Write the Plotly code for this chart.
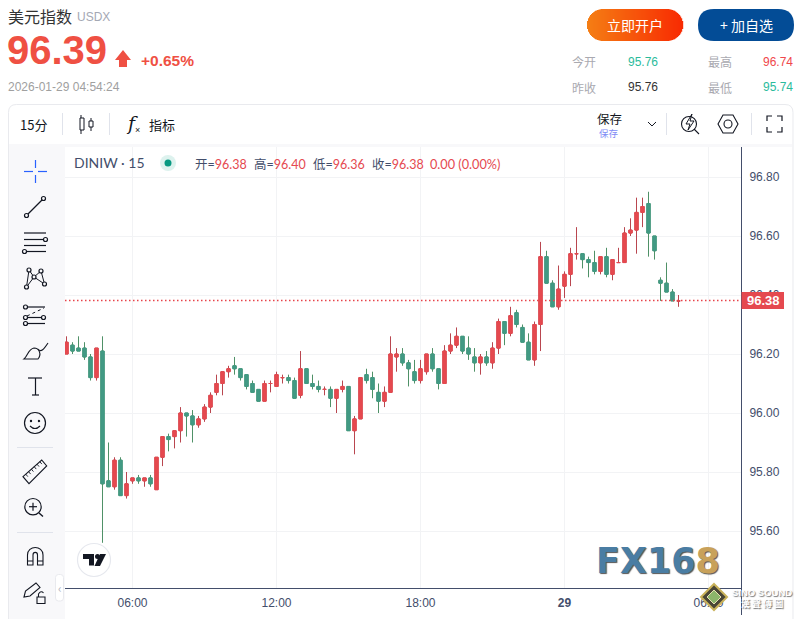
import plotly.graph_objects as go

# ---------- data ----------
opens = [96.20,96.23,96.22,96.22,96.19,96.12,96.21,95.77,95.75,95.84,95.72,95.77,95.78,95.77,95.78,95.74,95.85,95.92,95.92,95.94,
         96.00,95.99,95.96,95.98,96.02,96.07,96.10,96.14,96.16,96.15,96.13,96.10,96.08,96.04,96.10,96.09,96.12,96.12,96.11,96.06,
         96.15,96.10,96.09,96.08,96.08,96.05,96.08,96.09,95.94,95.98,96.13,96.12,96.07,96.04,96.07,96.19,96.20,96.17,96.14,96.11,
         96.14,96.20,96.15,96.10,96.21,96.23,96.26,96.22,96.19,96.17,96.19,96.17,96.22,96.31,96.27,96.34,96.29,96.24,96.18,96.30,
         96.53,96.44,96.36,96.43,96.47,96.54,96.54,96.52,96.51,96.48,96.53,96.47,96.51,96.51,96.61,96.62,96.68,96.71,96.60,96.45,
         96.44,96.41,96.38]
highs = [96.26,96.24,96.26,96.24,96.20,96.22,96.26,95.90,95.85,95.85,95.80,95.78,95.79,95.78,95.79,95.85,95.92,95.93,95.94,96.02,
         96.00,96.01,95.99,96.03,96.07,96.13,96.14,96.16,96.19,96.15,96.13,96.11,96.08,96.11,96.11,96.14,96.13,96.13,96.12,96.21,
         96.15,96.13,96.11,96.09,96.09,96.08,96.11,96.09,95.99,96.12,96.15,96.14,96.10,96.09,96.26,96.22,96.22,96.18,96.18,96.18,
         96.20,96.22,96.15,96.23,96.27,96.29,96.26,96.26,96.22,96.20,96.21,96.24,96.32,96.31,96.36,96.35,96.30,96.27,96.31,96.58,
         96.55,96.45,96.50,96.48,96.56,96.63,96.54,96.53,96.55,96.53,96.56,96.52,96.56,96.63,96.66,96.73,96.73,96.75,96.60,96.46,
         96.51,96.42,96.40]
lows = [96.20,96.20,96.21,96.18,96.11,96.11,95.56,95.75,95.74,95.72,95.71,95.76,95.76,95.75,95.75,95.74,95.82,95.87,95.88,95.90,
        95.92,95.90,95.95,95.97,96.00,96.06,96.06,96.12,96.13,96.11,96.08,96.07,96.04,96.04,96.07,96.09,96.10,96.10,96.05,96.05,
        96.10,96.08,96.07,96.06,96.02,96.00,96.07,95.94,95.86,95.98,96.10,96.05,96.00,96.02,96.07,96.14,96.16,96.09,96.10,96.10,
        96.13,96.14,96.08,96.10,96.20,96.22,96.20,96.18,96.14,96.13,96.16,96.15,96.20,96.23,96.26,96.29,96.24,96.18,96.16,96.21,
        96.44,96.36,96.35,96.39,96.43,96.52,96.49,96.46,96.47,96.47,96.46,96.45,96.51,96.51,96.60,96.54,96.63,96.53,96.52,96.38,
        96.41,96.38,96.36]
closes = [96.24,96.21,96.21,96.19,96.12,96.22,95.76,95.75,95.84,95.72,95.76,95.78,95.77,95.78,95.76,95.85,95.92,95.91,95.94,96.00,
          95.99,95.96,95.98,96.02,96.06,96.10,96.14,96.15,96.15,96.12,96.09,96.07,96.04,96.10,96.10,96.13,96.12,96.11,96.05,96.15,
          96.10,96.09,96.08,96.08,96.05,96.08,96.09,95.94,95.98,96.12,96.11,96.08,96.04,96.07,96.20,96.20,96.17,96.15,96.11,96.15,
          96.20,96.15,96.10,96.21,96.23,96.26,96.21,96.20,96.17,96.19,96.17,96.22,96.31,96.27,96.33,96.30,96.24,96.18,96.30,96.53,
          96.44,96.36,96.42,96.47,96.54,96.54,96.52,96.51,96.48,96.53,96.47,96.52,96.51,96.61,96.62,96.68,96.70,96.61,96.55,96.44,
          96.41,96.38,96.38]
price_ticks = [95.6, 95.8, 96.0, 96.2, 96.4, 96.6, 96.8]
time_tick_pos = [11, 35, 59, 83, 107]
time_tick_text = ["06:00", "12:00", "18:00", "<b>29</b>", "06:00"]
last_price = 96.3814

W, H = 801, 619
RED, GREEN = "#E5494F", "#429A84"
RED_WICK, GREEN_WICK = "#B9464F", "#4F9167"
INK, AXIS = "#131722", "#434E6B"
CJK = "Noto Sans CJK SC, Liberation Sans"
SANS = "Liberation Sans, Noto Sans CJK SC"

xs = list(range(len(opens)))
up = [i for i in xs if closes[i] >= opens[i]]
down = [i for i in xs if closes[i] < opens[i]]


def candles(idx, color, bodies):
    o = [opens[i] for i in idx]
    c = [closes[i] for i in idx]
    hi = [max(opens[i], closes[i]) for i in idx] if bodies else [highs[i] for i in idx]
    lo = [min(opens[i], closes[i]) for i in idx] if bodies else [lows[i] for i in idx]
    style = dict(line=dict(color=color, width=1), fillcolor=color)
    return go.Candlestick(x=idx, open=o, high=hi, low=lo, close=c, increasing=style, decreasing=style,
                          hoverinfo="skip", showlegend=False)


fig = go.Figure()
fig.add_trace(candles(up, RED_WICK, False))
fig.add_trace(candles(down, GREEN_WICK, False))
fig.add_trace(candles(up, RED, True))
fig.add_trace(candles(down, GREEN, True))

shapes, notes = [], []
px = lambda x: x / W
py = lambda y: 1 - y / H


def rect(x0, y0, x1, y1, fill, line=None, width=1):
    shapes.append(dict(type="rect", xref="paper", yref="paper", x0=px(x0), x1=px(x1), y0=py(y0), y1=py(y1),
                       fillcolor=fill, line=dict(color=line or "rgba(0,0,0,0)", width=width if line else 0), layer="above"))


def seg(x0, y0, x1, y1, color=INK, width=1.2, dash="solid"):
    shapes.append(dict(type="line", xref="paper", yref="paper", x0=px(x0), x1=px(x1), y0=py(y0), y1=py(y1),
                       line=dict(color=color, width=width, dash=dash), layer="above"))


def circ(cx, cy, r, fill="#F8F8FA", line=INK, width=1.2):
    shapes.append(dict(type="circle", xref="paper", yref="paper", x0=px(cx - r), x1=px(cx + r), y0=py(cy + r), y1=py(cy - r),
                       fillcolor=fill, line=dict(color=line or "rgba(0,0,0,0)", width=width if line else 0), layer="above"))


def path(cmds, fill="rgba(0,0,0,0)", line=INK, width=1.2):
    out = []
    for c in cmds:
        if isinstance(c, str):
            out.append(c)
        else:
            out.append(f"{px(c[0]):.5f},{py(c[1]):.5f}")
    shapes.append(dict(type="path", xref="paper", yref="paper", path=" ".join(out), fillcolor=fill,
                       line=dict(color=line or "rgba(0,0,0,0)", width=width if line else 0), layer="above"))


def text(x, y, s, size=12, color=INK, anchor="left", font=CJK, shadow=None):
    f = dict(size=size, color=color, family=font)
    if shadow:
        f["shadow"] = shadow
    notes.append(dict(xref="paper", yref="paper", x=px(x), y=py(y), text=s, showarrow=False, xanchor=anchor,
                      yanchor="middle", font=f, borderpad=0, borderwidth=0))


def round_rect(x0, y0, x1, y1, r, fill, line=None, width=1):
    path(["M", (x0 + r, y0), "L", (x1 - r, y0), "Q", (x1, y0), (x1, y0 + r), "L", (x1, y1 - r), "Q", (x1, y1), (x1 - r, y1),
          "L", (x0 + r, y1), "Q", (x0, y1), (x0, y1 - r), "L", (x0, y0 + r), "Q", (x0, y0), (x0 + r, y0), "Z"],
         fill=fill, line=line, width=width)


# ---------- page furniture ----------
round_rect(8.5, 104.5, 793, 640, 8, "rgba(0,0,0,0)", line="#E9EAEE", width=1)
rect(9, 144, 792, 147, "#F8F8FA")
rect(9, 144, 65, 619, "#F8F8FA")

# header
text(8, 16, "美元指数", 16, "#333333")
text(77, 17, "USDX", 12, "#A4A8B4", font=SANS)
text(7, 50, "<b>96.39</b>", 40, "#EF5043", font=SANS)
path(["M", (123, 50), "L", (131, 60), "L", (127, 60), "L", (127, 67), "L", (119, 67), "L", (119, 60), "L", (115, 60), "Z"],
     fill="#EF5043", line=None)
text(141, 60, "<b>+0.65%</b>", 15.5, "#EF5043", font=SANS)
text(8, 87, "2026-01-29 04:54:24", 12, "#A0A0A0", font=SANS)

# buttons
x0b, x1b, y0b, y1b, rb = 587, 683, 9, 41, 16
for k in range(x0b, x1b):
    t = (k - x0b) / (x1b - x0b)
    col = f"rgb({int(245 + 4 * t)},{int(126 - 84 * t)},{int(20 - 18 * t)})"
    d = max(x0b + rb - (k + .5), (k + .5) - (x1b - rb), 0)
    h = (rb * rb - d * d) ** .5 if d < rb else 0
    ym = (y0b + y1b) / 2
    rect(k, ym - h, k + 1.2, ym + h, col)
text(635, 25, "立即开户", 14, "white", "center")
round_rect(698, 9, 794, 41, 16, "#034C96")
text(746, 25, "+ 加自选", 14, "white", "center")

# stats
text(572, 62, "今开", 12, "#A9A9B0")
text(628, 62, "95.76", 12, "#2BBB9C", font=SANS)
text(708, 62, "最高", 12, "#A9A9B0")
text(763, 62, "96.74", 12, "#F0474B", font=SANS)
text(572, 87, "昨收", 12, "#A9A9B0")
text(628, 87, "95.76", 12, "#333333", font=SANS)
text(708, 87, "最低", 12, "#A9A9B0")
text(763, 87, "95.74", 12, "#2BBB9C", font=SANS)

# chart top bar
text(33, 124.5, "15分", 13, INK, "center")
seg(62.5, 113, 62.5, 135, "#E0E3EB", 1)
seg(81, 115, 81, 134, INK, 1)
rect(80, 118, 84, 130, "white", INK, 1)
seg(91, 118, 91, 131, INK, 1)
rect(89, 121, 93, 127, "white", INK, 1)
seg(109.5, 113, 109.5, 135, "#E0E3EB", 1)
text(126, 123, "<i>f</i>", 19, INK, font="DejaVu Serif")
text(134.5, 130, "×", 9, INK, font=SANS)
text(149, 124.5, "指标", 13, INK)
text(609, 118.5, "保存", 12.5, INK, "center")
text(609, 133.5, "保存", 9.5, "#7E8BF5", "center")
path(["M", (648, 122), "L", (652, 126), "L", (656, 122)], line=INK, width=1)
seg(666.5, 113, 666.5, 135, "#E0E3EB", 1)
circ(689, 124, 7.5, "white", INK, 1.1)
seg(694, 129, 699, 134, INK, 1.1)
path(["M", (692, 114), "L", (686, 124), "L", (690, 124), "L", (688, 130), "L", (694, 121), "L", (690, 121), "Z"], fill="white", line=INK, width=1)
path(["M", (718, 124), "L", (723, 115), "L", (733, 115), "L", (738, 124), "L", (733, 133), "L", (723, 133), "Z"], line=INK, width=1.1)
circ(728, 124, 4, "white", INK, 1.1)
seg(751.5, 113, 751.5, 135, "#E0E3EB", 1)
for cx, sx in ((767, 1), (782, -1)):
    for cy, sy in ((116, 1), (132, -1)):
        path(["M", (cx + 5 * sx, cy), "L", (cx, cy), "L", (cx, cy + 5 * sy)], line=INK, width=1.2)

# left tools
BLUE = "#2962FF"
seg(24, 171.5, 33, 171.5, BLUE); seg(38, 171.5, 47, 171.5, BLUE)
seg(35.5, 160, 35.5, 168, BLUE); seg(35.5, 175, 35.5, 183, BLUE)
seg(26.5, 215.5, 43.5, 198.5); circ(26.5, 215.5, 2); circ(43.5, 198.5, 2)
for y_ in (233, 239.5, 245.5, 251.5):
    seg(24, y_, 46, y_)
circ(45.5, 239.5, 2); circ(24.5, 251.5, 2)
for a, b in (((29, 270), (34, 277)), ((41, 271), (34, 277)), ((29, 270), (26.5, 287)), ((41, 271), (44.5, 284)), ((34, 277), (26.5, 287)), ((34, 277), (44.5, 284))):
    seg(a[0], a[1], b[0], b[1], INK, 1)
for c in ((29, 270), (41, 271), (34, 277), (26.5, 287), (44.5, 284)):
    circ(c[0], c[1], 2)
seg(25, 307, 45, 307); seg(25, 317.5, 43, 317.5); seg(25, 323.5, 45, 323.5)
seg(27, 316, 44, 308, INK, 1, "dot")
for c in ((25.5, 307), (25.5, 317.5), (43.5, 317.5), (25.5, 323.5)):
    circ(c[0], c[1], 2)
path(["M", (24, 359), "C", (28, 356), (28, 349), (34, 348), "C", (39, 348), (42, 354), (38, 359), "Z"], line=INK, width=1.1)
path(["M", (38, 349), "C", (41, 353), (44, 349), (48, 343)], line=INK, width=1.1)
seg(28, 378, 42, 378); seg(35.5, 378, 35.5, 395); seg(32, 395, 39, 395)
circ(35, 423, 10.5)
circ(31, 421, .6, INK); circ(39, 421, .6, INK)
path(["M", (30, 426), "Q", (35, 431), (40, 426)], line=INK, width=1.1)
seg(17, 447.5, 53, 447.5, "#E0E3EB", 1)
path(["M", (23, 476.7), "L", (41.7, 460), "L", (46.7, 466), "L", (29, 483.7), "Z"], line=INK, width=1.1)
for t in (.15, .3, .45, .6, .75, .9):
    xa, ya = 23 + 18.7 * t, 476.7 - 16.7 * t
    seg(xa, ya, xa + 2, ya + 2.4, INK, .9)
circ(33, 506.7, 8.2)
seg(29, 506.7, 37, 506.7); seg(33, 502.7, 33, 510.7)
seg(39, 513, 43, 516.5, INK, 1.4)
seg(17, 532.5, 53, 532.5, "#E0E3EB", 1)
path(["M", (27.5, 565), "L", (27.5, 555), "C", (27.5, 545), (43, 545), (43, 555), "L", (43, 565), "L", (37.5, 565), "L", (37.5, 555),
      "C", (37.5, 551.5), (33, 551.5), (33, 555), "L", (33, 565), "Z"], line=INK, width=1.1)
seg(27.5, 561, 33, 561, INK, 1); seg(37.5, 561, 43, 561, INK, 1)
path(["M", (24, 597), "L", (25.5, 591), "L", (36, 583), "L", (40, 587.5), "L", (30, 596), "Z"], line=INK, width=1.1)
rect(37, 597, 45, 603.5, "#F8F8FA", INK, 1.1)
path(["M", (38.5, 597), "L", (38.5, 594), "Q", (41, 590), (43.5, 593)], line=INK, width=1.1)
round_rect(55.5, 574.5, 63.5, 601, 3, "white", "#E9EAEE", 1)
text(59.5, 587, "‹", 12, "#B2B5BE", "center")

# legend
LEG = "Lato, Noto Sans CJK SC"
text(74, 163, "DINIW · 15", 14, AXIS, font="Lato")
circ(168, 163, 8, "#DDF2EE", None)
circ(168, 163, 3.5, "#089981", None)
for x_, lab, val in ((194.5, "开", "96.38"), (254, "高", "96.40"), (312.5, "低", "96.36"), (372, "收", "96.38")):
    text(x_, 164, f"<span style='color:{AXIS}'>{lab}=</span>{val}", 12.5, RED, font=LEG)
text(430, 164, "0.00 (0.00%)", 12.7, RED, font="Lato")

# price line, tag
shapes.append(dict(type="line", xref="paper", yref="y", x0=px(65), x1=px(741), y0=last_price, y1=last_price,
                   line=dict(color="#E8434A", width=1.5, dash="1.5px,2.5px"), layer="above"))
seg(741.5, 147, 741.5, 615, AXIS, 1)
rect(741.5, 292, 784, 309, RED)
text(763, 300.5, "<b>96.38</b>", 13, "white", "center", font=SANS)

# TradingView mark
circ(94, 560, 16.5, "white", "#E6E8EE", 1.2)
path(["M", (83, 554), "L", (94, 554), "L", (94, 565.5), "L", (89, 565.5), "L", (89, 559), "L", (83, 559), "Z"], fill=INK, line=None)
circ(97.5, 556.5, 2.5, INK, None)
path(["M", (100, 554), "L", (106, 554), "L", (100, 566), "L", (94.5, 566), "Z"], fill=INK, line=None)

# FX168 logo
text(596, 561, "<b><span style='color:#4A7DA3'>FX16</span><span style='color:#C8A15A'>8</span></b>", 35, "#4A7DA3",
     font="DejaVu Sans", shadow="1px 1px 1px #555555")

# corner watermark
path(["M", (714, 584), "L", (727, 597), "L", (714, 610), "L", (701, 597), "Z"], fill="#4A4636", line="#C9B25A", width=2)
path(["M", (714, 590), "L", (721, 597), "L", (714, 604), "L", (707, 597), "Z"], fill="#8CB56B", line="#E6E0B0", width=1)
text(762, 592, "<b>SINO SOUND</b>", 9.5, "white", "center", font=SANS, shadow="1px 1px 1px #777777")
text(762, 603, "<b>漢 聲 傳 圖</b>", 9, "white", "center", shadow="1px 1px 1px #777777")

fig.update_layout(
    width=W, height=H, margin=dict(l=0, r=0, t=0, b=0), paper_bgcolor="white", plot_bgcolor="rgba(0,0,0,0)",
    showlegend=False, boxgap=0.22, hovermode=False, dragmode=False, shapes=shapes, annotations=notes,
    font=dict(family=SANS, color=AXIS, size=12),
    xaxis=dict(domain=[65 / W, 741 / W], range=[-0.25, 112.417], rangeslider=dict(visible=False), tickmode="array",
               tickvals=time_tick_pos, ticktext=time_tick_text, showgrid=True, gridcolor="#F2F3F5", gridwidth=1, zeroline=False,
               showline=True, linecolor=AXIS, linewidth=1, ticks="outside", ticklen=4, tickcolor="rgba(0,0,0,0)",
               tickfont=dict(size=12, color=AXIS), anchor="y", fixedrange=True),
    yaxis=dict(domain=[1 - 588 / H, 1 - 147 / H], range=[95.4068, 96.9017], side="right", tickmode="array", tickvals=price_ticks,
               ticktext=[f"{v:.2f}" for v in price_ticks], showgrid=True, gridcolor="#F2F3F5", gridwidth=1, zeroline=False,
               showline=False, ticks="outside", ticklen=5, tickcolor="rgba(0,0,0,0)", tickfont=dict(size=12, color=AXIS),
               anchor="x", fixedrange=True),
)

fig.write_html("out.html", config=dict(displayModeBar=False, responsive=False),
               post_script="document.body.style.margin='0';document.body.style.overflow='hidden';")
